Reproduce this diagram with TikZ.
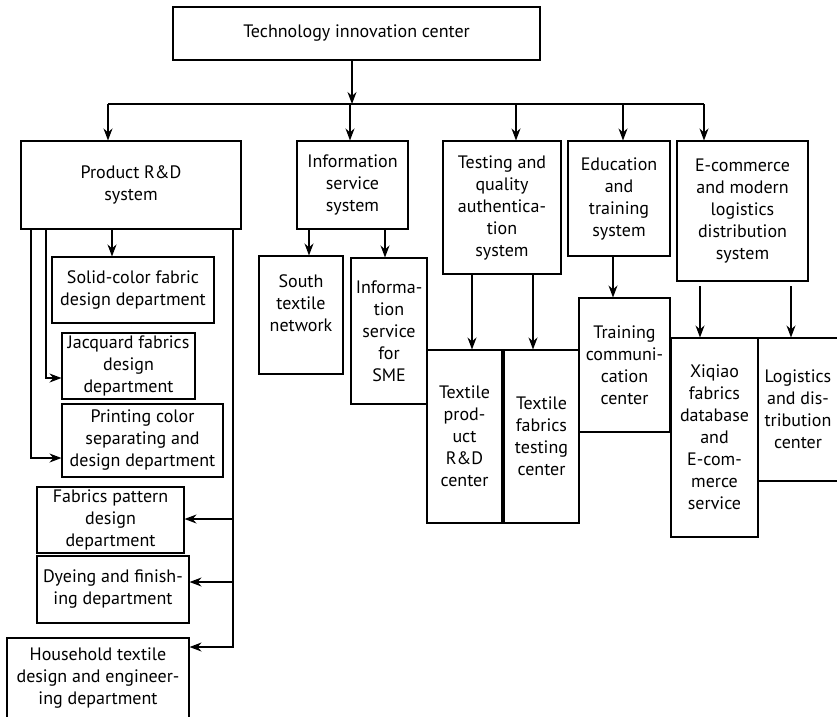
\documentclass[tikz,border=0pt]{standalone}
\usepackage{fontspec}
\setmainfont{PT Sans}
\usetikzlibrary{arrows.meta}

\newcommand{\orgfont}{\fontsize{18}{22}\selectfont}

\tikzset{
    unit/.style={draw, line width=1.1pt, inner sep=0pt, align=center, font=\orgfont},
    arr/.style={line width=1.1pt, -{Stealth[length=12pt,width=9pt]}},
    bus/.style={line width=1.1pt}
}

\begin{document}
\begin{tikzpicture}[x=1pt,y=-1pt]
    \useasboundingbox (0,0) rectangle (837,716);

    % Top level
    \node[unit, minimum width=367pt, minimum height=53pt] (top) at (356.5,33.5) {Technology innovation center};

    % Systems
    \node[unit, minimum width=220pt, minimum height=88pt] (prod) at (131,185) {Product R\&D\\system};
    \node[unit, minimum width=111pt, minimum height=88pt] (info) at (352.5,185) {Information\\service\\system};
    \node[unit, minimum width=118pt, minimum height=133pt] (test) at (502,207.5) {Testing and\\quality\\authentica-\\tion\\system};
    \node[unit, minimum width=102pt, minimum height=115pt] (edu) at (619,198.5) {Education\\and\\training\\system};
    \node[unit, minimum width=131pt, minimum height=140pt] (ecom) at (742.5,211) {E-commerce\\and modern\\logistics\\distribution\\system};

    % Product R&D departments
    \node[unit, minimum width=162pt, minimum height=66pt] (solid) at (133,290) {Solid-color fabric\\design department};
    \node[unit, minimum width=133pt, minimum height=66pt] (jacq) at (128.5,366) {Jacquard fabrics\\design\\department};
    \node[unit, minimum width=161pt, minimum height=73pt] (print) at (142.5,440.5) {Printing color\\separating and\\design department};
    \node[unit, minimum width=147pt, minimum height=66pt] (fab) at (110.5,520) {Fabrics pattern\\design\\department};
    \node[unit, minimum width=152pt, minimum height=67pt] (dye) at (113,589.5) {Dyeing and finish-\\ing department};
    \node[unit, minimum width=182pt, minimum height=80pt] (house) at (98,678) {Household textile\\design and engineer-\\ing department};

    % Centers
    \node[unit, minimum width=84pt, minimum height=118pt] (south) at (301,315) {};
    \node[font=\orgfont, align=center, inner sep=0pt] (southtxt) at ([yshift=12pt]south.center) {South\\textile\\network};
    \node[unit, minimum width=76pt, minimum height=146pt] (sme) at (389,331) {Informa-\\tion\\service\\for\\SME};
    \node[unit, minimum width=75pt, minimum height=173pt] (tprod) at (464.5,436.5) {Textile\\prod-\\uct\\R\&D\\center};
    \node[unit, minimum width=75pt, minimum height=173pt] (tfab) at (541.5,436.5) {Textile\\fabrics\\testing\\center};
    \node[unit, minimum width=91pt, minimum height=134pt] (train) at (624.5,365) {Training\\communi-\\cation\\center};
    \node[unit, minimum width=87pt, minimum height=199pt] (xiq) at (714.5,437.5) {Xiqiao\\fabrics\\database\\and\\E-com-\\merce\\service};
    \node[unit, minimum width=80pt, minimum height=143pt] (logi) at (798,409.5) {Logistics\\and dis-\\tribution\\center};

    % Bus under the top box
    \coordinate (tap) at (352,104);
    \coordinate (busL) at (108,104);
    \coordinate (d2) at (350,104);
    \coordinate (d3) at (516,104);
    \coordinate (d4) at (623,104);
    \coordinate (busR) at (704,104);
    \draw[arr] (top.south -| tap) -- (tap);
    \draw[bus] (busL) -- (busR);
    \foreach \c/\n in {busL/prod, d2/info, d3/test, d4/edu, busR/ecom}
        \draw[arr] (\c) -- (\c |- \n.north);

    % Product R&D branches
    \coordinate (s1) at (112,0);
    \coordinate (k1) at (46,378);
    \coordinate (k2) at (31,458);
    \coordinate (r1) at (233,519);
    \coordinate (r2) at (233,582);
    \coordinate (r3) at (233,647);
    \draw[arr] (prod.south -| s1) -- (s1 |- solid.north);
    \draw[arr] (prod.south -| k1) |- (jacq.west |- k1);
    \draw[arr] (prod.south -| k2) |- (print.west |- k2);
    \draw[arr] (prod.south -| r3) |- (house.east |- r3);
    \draw[arr] (r1) -- (fab.east |- r1);
    \draw[arr] (r2) -- (dye.east |- r2);

    % Other branches
    \coordinate (i1) at (309,0);
    \coordinate (i2) at (385,0);
    \coordinate (t1) at (472,0);
    \coordinate (t2) at (533,0);
    \coordinate (u1) at (613,0);
    \coordinate (e1) at (700,286);
    \coordinate (e2) at (791,286);
    \draw[arr] (info.south -| i1) -- (i1 |- south.north);
    \draw[arr] (info.south -| i2) -- (i2 |- sme.north);
    \draw[arr] (test.south -| t1) -- (t1 |- tprod.north);
    \draw[arr] (test.south -| t2) -- (t2 |- tfab.north);
    \draw[arr] (edu.south -| u1) -- (u1 |- train.north);
    \draw[arr] (e1) -- (e1 |- xiq.north);
    \draw[arr] (e2) -- (e2 |- logi.north);
\end{tikzpicture}
\end{document}
